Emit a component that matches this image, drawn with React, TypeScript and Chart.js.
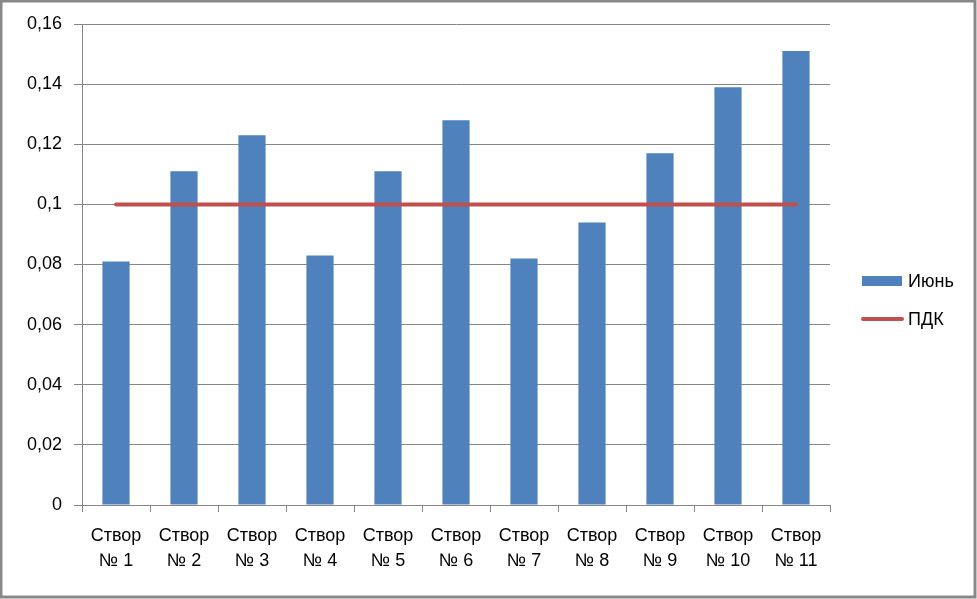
import React, { useEffect, useRef } from "react";
import { Chart, registerables } from "chart.js";

Chart.register(...registerables);

const categories: string[][] = [
  ["Створ", "№ 1"], ["Створ", "№ 2"], ["Створ", "№ 3"], ["Створ", "№ 4"],
  ["Створ", "№ 5"], ["Створ", "№ 6"], ["Створ", "№ 7"], ["Створ", "№ 8"],
  ["Створ", "№ 9"], ["Створ", "№ 10"], ["Створ", "№ 11"],
];
const juneValues: number[] = [0.081, 0.111, 0.123, 0.083, 0.111, 0.128, 0.082, 0.094, 0.117, 0.139, 0.151];
const pdkValues: number[] = [0.1, 0.1, 0.1, 0.1, 0.1, 0.1, 0.1, 0.1, 0.1, 0.1, 0.1];
const seriesNames: string[] = ["Июнь", "ПДК"];
const yMin = 0;
const yMax = 0.16;
const yStep = 0.02;

const FONT = "'Liberation Sans', Arial, sans-serif";
const BLUE = "#4F81BD";
const RED = "#C0504D";
const GRID = "#868686";

const frameAndLegend = {
  id: "frameAndLegend",
  afterDraw(chart: any) {
    const ctx = chart.ctx as CanvasRenderingContext2D;
    const { width, height } = chart;
    ctx.save();
    // outer frame
    ctx.strokeStyle = "#888888";
    ctx.lineWidth = 3;
    ctx.strokeRect(1, 1, width - 3, height - 3);
    // legend
    const x0 = chart.chartArea.right + 32;
    const ds = chart.data.datasets;
    const rowY = [281, 319];
    ctx.font = `18px ${FONT}`;
    ctx.textBaseline = "middle";
    ctx.textAlign = "left";
    ds.forEach((d: any, i: number) => {
      const y = rowY[i];
      if (d.type === "line") {
        ctx.strokeStyle = d.borderColor;
        ctx.lineWidth = 4;
        ctx.lineCap = "round";
        ctx.beginPath();
        ctx.moveTo(x0 + 1, y);
        ctx.lineTo(x0 + 40, y);
        ctx.stroke();
      } else {
        ctx.fillStyle = d.backgroundColor;
        ctx.fillRect(x0, y - 5, 40, 10);
      }
      ctx.fillStyle = "#000";
      ctx.fillText(d.label, x0 + 46, y + 1);
    });
    ctx.restore();
  },
};

export default function App() {
  const ref = useRef<HTMLCanvasElement>(null);
  useEffect(() => {
    document.body.style.margin = "0";
    const canvas = ref.current!;
    const chart = new Chart(canvas, {
      type: "bar",
      data: {
        labels: categories,
        datasets: [
          {
            type: "bar",
            label: seriesNames[0],
            data: juneValues,
            backgroundColor: BLUE,
            borderWidth: 0,
            categoryPercentage: 1,
            barPercentage: 0.4,
            order: 2,
          } as any,
          {
            type: "line",
            label: seriesNames[1],
            data: pdkValues,
            borderColor: RED,
            backgroundColor: RED,
            borderWidth: 4,
            borderCapStyle: "round",
            pointRadius: 0,
            fill: false,
            order: 1,
          } as any,
        ],
      },
      options: {
        animation: false,
        responsive: false,
        events: [],
        layout: { padding: { left: 0, top: 24, right: 147, bottom: 0 } },
        plugins: {
          legend: { display: false },
          tooltip: { enabled: false },
        },
        scales: {
          x: {
            grid: {
              drawOnChartArea: false,
              drawTicks: true,
              tickLength: 7,
              color: GRID,
              offset: true,
            },
            border: { color: GRID, width: 1 },
            ticks: {
              color: "#000",
              font: { family: FONT, size: 18, lineHeight: 1.39 },
              padding: 12,
              maxRotation: 0,
              autoSkip: false,
            },
            afterFit(scale: any) {
              scale.height = 94;
            },
          },
          y: {
            min: yMin,
            max: yMax,
            grid: {
              color: GRID,
              tickLength: 8,
              drawTicks: true,
            },
            border: { color: GRID, width: 1 },
            ticks: {
              stepSize: yStep,
              color: "#000",
              padding: 12,
              font: { family: FONT, size: 18 },
              callback: (v: any) => {
                const n = Math.round(Number(v) * 100) / 100;
                return String(n).replace(".", ",");
              },
            },
            afterFit(scale: any) {
              scale.width = 82;
            },
          },
        },
      },
      plugins: [frameAndLegend],
    });
    return () => chart.destroy();
  }, []);
  return (
    <div style={{ width: 977, height: 599 }}>
      <canvas ref={ref} width={977} height={599} style={{ display: "block" }} />
    </div>
  );
}
